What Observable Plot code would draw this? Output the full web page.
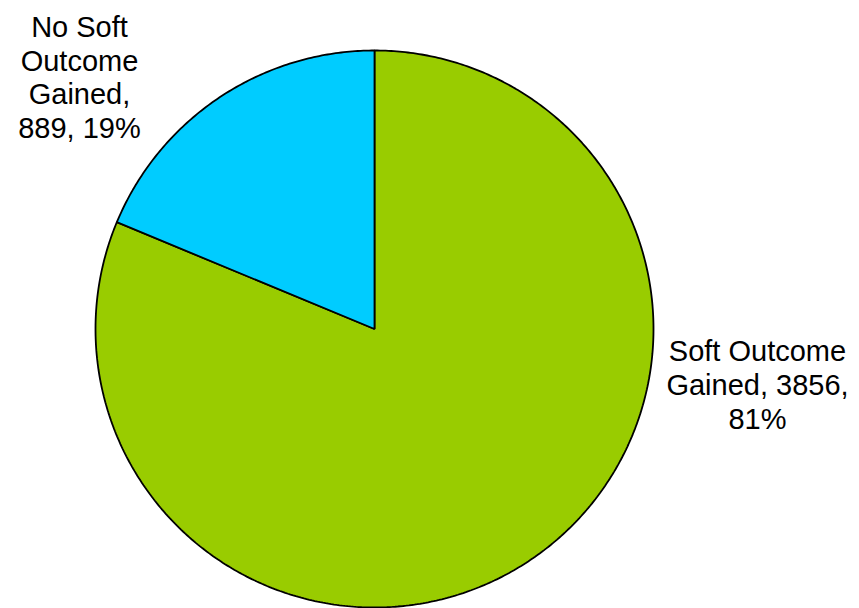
<!DOCTYPE html>
<html>
<head>
<meta charset="utf-8">
<script src="https://cdn.jsdelivr.net/npm/d3@7"></script>
<script src="https://cdn.jsdelivr.net/npm/@observablehq/plot@0.6"></script>
<style>
  html, body { margin: 0; padding: 0; background: #ffffff; }
  #chart svg { display: block; }
</style>
</head>
<body>
<div id="chart"></div>
<script>
// ---- data ----
const categories = ["Soft Outcome Gained", "No Soft Outcome Gained"];
const values = [3856, 889];
const colors = ["#99CC00", "#00CCFF"];

// ---- derived ----
const total = d3.sum(values);
const slices = d3.pie().sort(null).value(d => d.value)(
  categories.map((c, i) => ({category: c, value: values[i], color: colors[i]}))
);

// polygon outline for each slice (center + arc), in unit-circle coordinates
const outline = [];
for (const s of slices) {
  const span = s.endAngle - s.startAngle;
  const n = Math.max(2, Math.ceil(span / 0.01));
  outline.push({category: s.data.category, x: 0, y: 0});
  for (let k = 0; k <= n; k++) {
    const a = s.startAngle + span * k / n;
    outline.push({category: s.data.category, x: Math.sin(a), y: Math.cos(a)});
  }
}

const labels = slices.map(s => ({
  category: s.data.category,
  text: `${s.data.category}, ${s.data.value}, ${Math.round(100 * s.data.value / total)}%`
}));

const font = "'Liberation Sans', Arial, Helvetica, sans-serif";

const chart = Plot.plot({
  width: 859,
  height: 608,
  marginLeft: 95,
  marginRight: 206,
  marginTop: 50,
  marginBottom: 1,
  x: {domain: [-1, 1], axis: null},
  y: {domain: [-1, 1], axis: null},
  color: {domain: categories, range: colors},
  style: {fontFamily: font, background: "#ffffff"},
  marks: [
    Plot.line(outline, {
      x: "x", y: "y", z: "category",
      fill: "category",
      stroke: "#000000",
      strokeWidth: 1.8,
      strokeLinejoin: "miter",
      curve: "linear-closed"
    }),
    Plot.text(labels.filter(d => d.category === categories[0]), {
      text: "text",
      frameAnchor: "right",
      textAnchor: "middle",
      lineAnchor: "top",
      lineWidth: 7.6,
      lineHeight: 1.17,
      dx: 104,
      dy: 8,
      fontSize: 29,
      fill: "#000000"
    }),
    Plot.text(labels.filter(d => d.category === categories[1]), {
      text: "text",
      frameAnchor: "top-left",
      textAnchor: "middle",
      lineAnchor: "top",
      lineWidth: 4.6,
      lineHeight: 1.17,
      dx: -16,
      dy: -38,
      fontSize: 29,
      fill: "#000000"
    })
  ]
});

document.getElementById("chart").appendChild(chart);
</script>
</body>
</html>
